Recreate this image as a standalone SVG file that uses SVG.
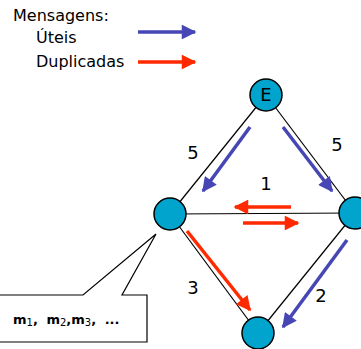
<svg xmlns="http://www.w3.org/2000/svg" width="361" height="349" viewBox="0 0 361 349">
<defs>
<style>
.t{font-family:"DejaVu Sans",Verdana,sans-serif;font-size:16px;fill:#000}
.lbl{font-family:"DejaVu Sans",Verdana,sans-serif;font-size:18px;fill:#000;text-anchor:middle}
.edge{stroke:#000;stroke-width:1.2;fill:none}
.node{fill:#00a4cc;stroke:#000;stroke-width:1.5}
.blue{stroke:#4646b4;stroke-width:3.5;fill:none}
.red{stroke:#ff2a00;stroke-width:3.5;fill:none}
</style>
<marker id="ab" viewBox="0 0 10 10" refX="9" refY="5" markerWidth="4.5" markerHeight="4.2" orient="auto" markerUnits="strokeWidth"><path d="M0,0 L10,5 L0,10 z" fill="#4646b4"/></marker>
<marker id="ar" viewBox="0 0 10 10" refX="9" refY="5" markerWidth="4.5" markerHeight="4.2" orient="auto" markerUnits="strokeWidth"><path d="M0,0 L10,5 L0,10 z" fill="#ff2a00"/></marker>
</defs>
<g id="legend">
<text class="t" x="13" y="21">Mensagens:</text>
<text class="t" x="36" y="43">Úteis</text>
<text class="t" x="36" y="67">Duplicadas</text>
<line class="blue" x1="138" y1="32" x2="195" y2="32" marker-end="url(#ab)"/>
<line class="red" x1="138" y1="62" x2="195" y2="62" marker-end="url(#ar)"/>
</g>
<g id="connectors">
<line class="edge" x1="266" y1="95" x2="170" y2="214"/>
<line class="edge" x1="266" y1="95" x2="355" y2="213"/>
<line class="edge" x1="170" y1="214" x2="355" y2="213"/>
<line class="edge" x1="170" y1="214" x2="258" y2="333"/>
<line class="edge" x1="355" y1="213" x2="258" y2="333"/>
<line class="blue" x1="250" y1="127" x2="203" y2="191" marker-end="url(#ab)"/>
<line class="blue" x1="283" y1="127" x2="332" y2="191" marker-end="url(#ab)"/>
<line class="blue" x1="347" y1="240" x2="283" y2="327" marker-end="url(#ab)"/>
<line class="red" x1="187" y1="231" x2="250" y2="310" marker-end="url(#ar)"/>
<line class="red" x1="291" y1="207" x2="235" y2="207" marker-end="url(#ar)"/>
<line class="red" x1="243" y1="223" x2="298" y2="223" marker-end="url(#ar)"/>
<text class="lbl" x="193" y="159">5</text>
<text class="lbl" x="337" y="151">5</text>
<text class="lbl" x="266" y="190">1</text>
<text class="lbl" x="193" y="294">3</text>
<text class="lbl" x="321" y="302">2</text>
</g>
<g id="nodeE">
<circle class="node" cx="266" cy="95" r="16"/>
<text class="lbl" x="266" y="101">E</text>
</g>
<g id="nodeLeft"><circle class="node" cx="170" cy="214" r="16"/></g>
<g id="nodeRight"><circle class="node" cx="355" cy="213" r="16"/></g>
<g id="nodeBottom"><circle class="node" cx="258" cy="333" r="16"/></g>
<g id="callout">
<path d="M-2,295 H83 L156,234 L122,295 H147 V342 H-2 Z" fill="#fff" stroke="#000" stroke-width="1.2"/>
<text x="13" y="324" style="font-family:'DejaVu Sans',Verdana,sans-serif;font-size:13px;font-weight:bold;word-spacing:4px">m<tspan font-size="10" font-weight="normal" dy="2">1</tspan><tspan dy="-2">, m</tspan><tspan font-size="10" font-weight="normal" dy="2">2</tspan><tspan dy="-2">,m</tspan><tspan font-size="10" font-weight="normal" dy="2">3</tspan><tspan dy="-2">, ...</tspan></text>
</g>
</svg>
